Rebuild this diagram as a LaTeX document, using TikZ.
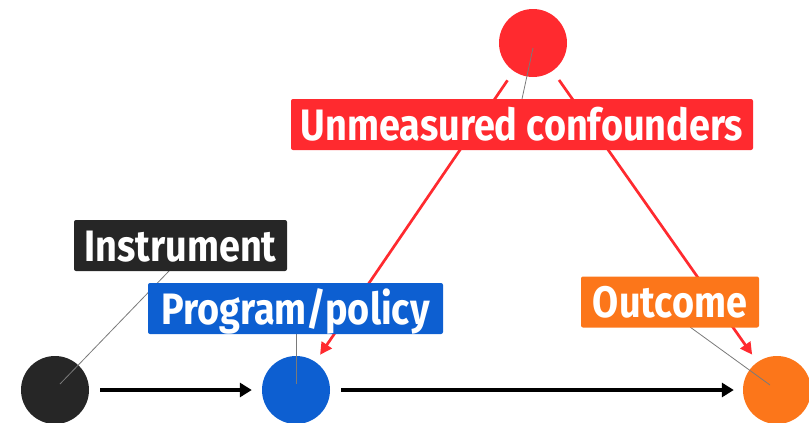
\documentclass[tikz,border=0pt]{standalone}
\usepackage{fontspec}
\setmainfont{Fira Sans}[FakeStretch=0.86]
\usetikzlibrary{arrows.meta,calc}
\definecolor{cRed}{HTML}{FF2A2F}
\definecolor{cBlack}{HTML}{262626}
\definecolor{cBlue}{HTML}{0D5FD1}
\definecolor{cOrange}{HTML}{FC761A}
\definecolor{cGray}{HTML}{7A7A7A}
\begin{document}
\begin{tikzpicture}[x=1pt,y=-1pt,
  dot/.style={circle,fill=#1,draw=none,minimum size=68pt,inner sep=0pt},
  lbl/.style={fill=#1,text=white,rounded corners=2pt,inner sep=0pt,minimum height=51pt,
    font=\fontsize{44}{46}\selectfont\bfseries,text height=35.5pt,text depth=4.5pt},
  causal/.style={line width=3.2pt,-{Triangle[length=12pt,width=14pt]}},
  conf/.style={cRed,line width=2.7pt,-{Triangle[length=12pt,width=12pt]}},
  leader/.style={cGray,line width=0.8pt}]
\useasboundingbox (0,0) rectangle (809,423);
% circles
\node[dot=cBlack] (inst) at (55,390) {};
\node[dot=cBlue] (prog) at (296,390) {};
\node[dot=cOrange] (out) at (777,390) {};
\node[dot=cRed] (conf) at (533,43) {};
% causal arrows
\draw[causal,shorten <=11pt,shorten >=10pt] (inst) -- (prog);
\draw[causal,shorten <=11pt,shorten >=9pt] (prog) -- (out);
\draw[conf,shorten <=11pt,shorten >=8.5pt] (conf) -- (prog);
\draw[conf,shorten <=11pt,shorten >=9pt] (conf) -- (out);
% leader lines
\coordinate (li1) at (60,384); \coordinate (li2) at (169,271);
\coordinate (lp1) at (296,384); \coordinate (lp2) at (296,334);
\coordinate (lo1) at (770,385); \coordinate (lo2) at (690,327);
\coordinate (lc1) at (533,48); \coordinate (lc2) at (522,99);
\draw[leader] (li1) -- (li2);
\draw[leader] (lp1) -- (lp2);
\draw[leader] (lo1) -- (lo2);
\draw[leader] (lc1) -- (lc2);
% labels
\node[lbl=cRed,minimum width=462pt] (tconf) at (522,124.5) {Unmeasured confounders};
\node[lbl=cBlack,minimum width=213pt] (tinst) at (180.5,245.5) {Instrument};
\node[lbl=cBlue,minimum width=295pt] (tprog) at (295.5,308.5) {Program/policy};
\node[lbl=cOrange,minimum width=178pt] (tout) at (670,302) {Outcome};
\end{tikzpicture}
\end{document}
